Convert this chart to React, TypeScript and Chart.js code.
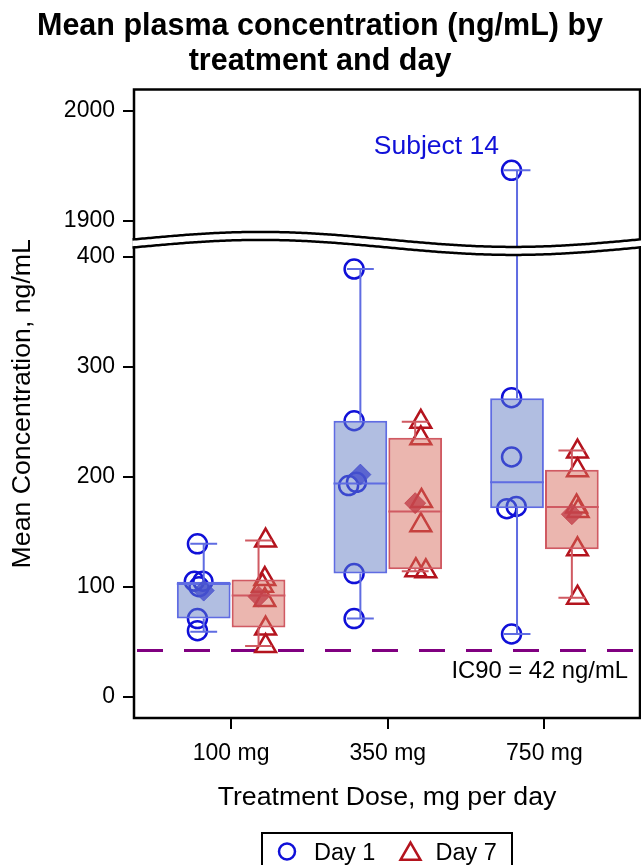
import React, { useEffect, useRef } from "react";
import { Chart, registerables } from "chart.js";

Chart.register(...registerables);

// ---------------- data ----------------
const categories = ["100 mg", "350 mg", "750 mg"];
const groupNames = ["Day 1", "Day 7"];
const titleLines = ["Mean plasma concentration (ng/mL) by", "treatment and day"];
const xTitle = "Treatment Dose, mg per day";
const yTitle = "Mean Concentration, ng/mL";

// individual subject values per dose
const day1Values = [
  [139, 105, 105, 100, 71, 60],
  [389, 251, 195, 192, 112, 71],
  [1946, 272, 218, 173, 171, 57],
];
const day1Jitter = [
  [-0.04, -0.06, -0.005, -0.03, -0.04, -0.04],
  [-0.04, -0.04, -0.025, -0.075, -0.04, -0.04],
  [-0.035, -0.035, -0.035, -0.005, -0.065, -0.035],
];
const day7Values = [
  [142, 107, 101, 88, 62, 46],
  [250, 235, 178, 156, 115, 114],
  [223, 206, 173, 169, 134, 90],
];
const day7Jitter = [
  [0.045, 0.04, 0.025, 0.04, 0.045, 0.045],
  [0.036, 0.036, 0.04, 0.036, 0.004, 0.068],
  [0.036, 0.036, 0.03, 0.04, 0.036, 0.036],
];

// box statistics
const day1Min = [59, 71, 57];
const day1Q1 = [71, 112, 171.5];
const day1Median = [102.5, 194, 195];
const day1Q3 = [104.5, 251, 271.5];
const day1Max = [139, 389, 1946];
const day1Mean = [96.5, 202, 473];

const day7Min = [46, 114, 90];
const day7Q1 = [63, 116, 134];
const day7Median = [92, 168.5, 172.5];
const day7Q3 = [106.5, 235.5, 206.5];
const day7Max = [142, 250, 224];
const day7Mean = [91, 176, 166];

// axes
const lowerTicks = [0, 100, 200, 300, 400];
const upperTicks = [1900, 2000];
const lowerRange = [-19.4, 412.3];
const upperRange = [1879.5, 2019.5];
const xRange = [0.38, 3.61];

const ic90 = 42;
const ic90Label = "IC90 = 42 ng/mL";
const outlierLabel = { category: 2, value: 1946, text: "Subject 14" };

// ---------------- styles ----------------
const FONT = "'Liberation Sans', Arial, Helvetica, sans-serif";
const BLUE = "#1010D8";
const RED = "#B4141E";
const BLUE_FILL = "rgba(100,125,195,0.5)";
const BLUE_LINE = "#5F6CE2";
const RED_FILL = "rgba(215,110,95,0.5)";
const RED_LINE = "#D05A62";
const BLUE_MEAN = "rgba(70,80,205,0.8)";
const RED_MEAN = "rgba(195,65,75,0.8)";
const PURPLE = "#800080";
const CAT_PCT = 0.7;
const GROUP_OFFSET = CAT_PCT / 4;

const inRange = (v: number, r: number[]) => v >= r[0] && v <= r[1];

function pointData(values: number[][], jitter: number[][], sign: number, range: number[]) {
  const out: { x: number; y: number }[] = [];
  values.forEach((vals, ci) =>
    vals.forEach((v, k) => {
      if (inRange(v, range)) out.push({ x: ci + 1 + sign * GROUP_OFFSET + jitter[ci][k], y: v });
    })
  );
  return out;
}
function meanData(means: number[], sign: number, range: number[]) {
  const out: { x: number; y: number }[] = [];
  means.forEach((v, ci) => {
    if (inRange(v, range)) out.push({ x: ci + 1 + sign * GROUP_OFFSET, y: v });
  });
  return out;
}
function boxData(q1: number[], q3: number[]) {
  return q1.map((v, i) => ({ x: i + 1, y: [v, q3[i]] }));
}

function trianglePath(ctx: CanvasRenderingContext2D, x: number, y: number, r: number) {
  ctx.beginPath();
  ctx.moveTo(x, y - r);
  ctx.lineTo(x + (r * Math.sqrt(3)) / 2, y + r / 2);
  ctx.lineTo(x - (r * Math.sqrt(3)) / 2, y + r / 2);
  ctx.closePath();
}

const extrasPlugin = {
  id: "boxExtras",
  beforeDatasetsDraw(chart: any) {
    const { ctx, chartArea: ca } = chart;
    const y = chart.scales.y.getPixelForValue(ic90);
    ctx.save();
    ctx.strokeStyle = PURPLE;
    ctx.lineWidth = 3;
    ctx.setLineDash([26, 21]);
    ctx.beginPath();
    ctx.moveTo(ca.left + 3, y);
    ctx.lineTo(ca.right, y);
    ctx.stroke();
    ctx.setLineDash([]);
    ctx.fillStyle = "#000";
    ctx.font = `23.8px ${FONT}`;
    ctx.textAlign = "right";
    ctx.textBaseline = "alphabetic";
    ctx.fillText(ic90Label, ca.right - 12, y + 28);
    ctx.restore();
  },
  afterDatasetDraw(chart: any, args: any) {
    const ds = chart.data.datasets[args.index];
    const st = ds.boxStats;
    if (!st) return;
    const { ctx } = chart;
    const ys = chart.scales.y;
    const y2 = chart.scales.y2;
    const px = (v: number) => (v <= lowerRange[1] ? ys.getPixelForValue(v) : y2.getPixelForValue(v));
    ctx.save();
    ctx.strokeStyle = ds.borderColor;
    ctx.lineWidth = 2;
    args.meta.data.forEach((el: any, i: number) => {
      const { x, width } = el.getProps(["x", "width"], true);
      const half = width / 2;
      const cap = width / 4;
      const yq1 = px(st.q1[i]);
      const yq3 = px(st.q3[i]);
      const ymin = px(st.min[i]);
      const ymax = px(st.max[i]);
      const ymed = px(st.median[i]);
      ctx.beginPath();
      ctx.moveTo(x, yq3);
      ctx.lineTo(x, ymax);
      ctx.moveTo(x - cap, ymax);
      ctx.lineTo(x + cap, ymax);
      ctx.moveTo(x, yq1);
      ctx.lineTo(x, ymin);
      ctx.moveTo(x - cap, ymin);
      ctx.lineTo(x + cap, ymin);
      ctx.moveTo(x - half, ymed);
      ctx.lineTo(x + half, ymed);
      ctx.stroke();
    });
    ctx.restore();
  },
  afterDraw(chart: any) {
    const { ctx, chartArea: ca } = chart;
    ctx.save();
    // frame
    ctx.strokeStyle = "#000";
    ctx.lineWidth = 2.5;
    ctx.strokeRect(ca.left, ca.top, ca.right - ca.left, ca.bottom - ca.top);

    // axis break
    const J = chart.scales.y.top;
    const amp = 7.5;
    const half = 4;
    const w = ca.right - ca.left;
    const wave = (x: number, d: number) => J + d - amp * Math.sin((2 * Math.PI * (x - ca.left)) / w);
    const x0 = ca.left - 1.5;
    const x1 = ca.right + 1.5;
    ctx.beginPath();
    for (let x = x0; x <= x1; x += 2) ctx.lineTo(x, wave(x, -half));
    ctx.lineTo(x1, wave(x1, -half));
    for (let x = x1; x >= x0; x -= 2) ctx.lineTo(x, wave(x, half));
    ctx.lineTo(x0, wave(x0, half));
    ctx.closePath();
    ctx.fillStyle = "#fff";
    ctx.fill();
    ctx.lineWidth = 2.5;
    ctx.strokeStyle = "#000";
    [-half, half].forEach((d) => {
      ctx.beginPath();
      for (let x = x0; x <= x1; x += 2) ctx.lineTo(x, wave(x, d));
      ctx.lineTo(x1, wave(x1, d));
      ctx.stroke();
    });

    // y axis title
    ctx.save();
    ctx.translate(23, (ca.top + ca.bottom) / 2);
    ctx.rotate(-Math.PI / 2);
    ctx.fillStyle = "#000";
    ctx.font = `26.7px ${FONT}`;
    ctx.textAlign = "center";
    ctx.textBaseline = "middle";
    ctx.fillText(yTitle, 0, 0);
    ctx.restore();

    // outlier label
    const boxMeta = chart.getDatasetMeta(2);
    const el = boxMeta.data[outlierLabel.category];
    if (el) {
      const yy = outlierLabel.value <= lowerRange[1]
        ? chart.scales.y.getPixelForValue(outlierLabel.value)
        : chart.scales.y2.getPixelForValue(outlierLabel.value);
      ctx.fillStyle = BLUE;
      ctx.font = `26.5px ${FONT}`;
      ctx.textAlign = "right";
      ctx.textBaseline = "alphabetic";
      ctx.fillText(outlierLabel.text, el.x - 18, yy - 16);
    }

    // legend
    const cx = (ca.left + ca.right) / 2;
    const lw = 250;
    const left = cx - lw / 2;
    const top = ca.bottom + 115;
    ctx.strokeStyle = "#000";
    ctx.lineWidth = 2;
    ctx.strokeRect(left, top, lw, 46);
    ctx.lineWidth = 2.5;
    ctx.strokeStyle = BLUE;
    ctx.beginPath();
    ctx.arc(left + 25, top + 18.5, 8, 0, Math.PI * 2);
    ctx.stroke();
    ctx.strokeStyle = RED;
    trianglePath(ctx, left + 148.5, top + 21, 11.5);
    ctx.stroke();
    ctx.fillStyle = "#000";
    ctx.font = `23.5px ${FONT}`;
    ctx.textAlign = "left";
    ctx.textBaseline = "alphabetic";
    ctx.fillText(groupNames[0], left + 52, top + 27);
    ctx.fillText(groupNames[1], left + 173.5, top + 27);
    ctx.restore();
  },
};

export default function App() {
  const ref = useRef<HTMLCanvasElement | null>(null);
  useEffect(() => {
    if (!ref.current) return;
    Chart.defaults.font.family = FONT;
    Chart.defaults.color = "#000";
    const tickGrid = {
      display: true,
      drawOnChartArea: false,
      drawTicks: true,
      tickLength: 11,
      color: "#000",
      lineWidth: 2,
      offset: false,
    };
    const numLabel = (v: any) => String(v);
    const chart = new Chart(ref.current, {
      type: "bar",
      data: {
        datasets: [
          {
            type: "scatter",
            label: "Day 1 mean",
            data: meanData(day1Mean, -1, lowerRange),
            yAxisID: "y",
            order: 0,
            pointStyle: "rectRot",
            pointRadius: 10.5,
            pointBackgroundColor: BLUE_MEAN,
            pointBorderColor: BLUE_MEAN,
            pointBorderWidth: 1,
          },
          {
            type: "scatter",
            label: "Day 7 mean",
            data: meanData(day7Mean, 1, lowerRange),
            yAxisID: "y",
            order: 0,
            pointStyle: "rectRot",
            pointRadius: 10.5,
            pointBackgroundColor: RED_MEAN,
            pointBorderColor: RED_MEAN,
            pointBorderWidth: 1,
          },
          {
            type: "bar",
            label: "Day 1 box",
            data: boxData(day1Q1, day1Q3),
            yAxisID: "y",
            order: 1,
            backgroundColor: BLUE_FILL,
            borderColor: BLUE_LINE,
            borderWidth: 2,
            borderSkipped: false,
            categoryPercentage: CAT_PCT,
            barPercentage: 0.98,
            boxStats: { min: day1Min, q1: day1Q1, median: day1Median, q3: day1Q3, max: day1Max },
          } as any,
          {
            type: "bar",
            label: "Day 7 box",
            data: boxData(day7Q1, day7Q3),
            yAxisID: "y",
            order: 1,
            backgroundColor: RED_FILL,
            borderColor: RED_LINE,
            borderWidth: 2,
            borderSkipped: false,
            categoryPercentage: CAT_PCT,
            barPercentage: 0.98,
            boxStats: { min: day7Min, q1: day7Q1, median: day7Median, q3: day7Q3, max: day7Max },
          } as any,
          {
            type: "scatter",
            label: "Day 1",
            data: pointData(day1Values, day1Jitter, -1, lowerRange),
            yAxisID: "y",
            order: 2,
            pointStyle: "circle",
            pointRadius: 9.5,
            pointBorderWidth: 2.5,
            pointBorderColor: BLUE,
            pointBackgroundColor: "rgba(0,0,0,0)",
          },
          {
            type: "scatter",
            label: "Day 7",
            data: pointData(day7Values, day7Jitter, 1, lowerRange),
            yAxisID: "y",
            order: 2,
            pointStyle: "triangle",
            pointRadius: 12,
            pointBorderWidth: 2.5,
            pointBorderColor: RED,
            pointBackgroundColor: "rgba(0,0,0,0)",
          },
          {
            type: "scatter",
            label: "Day 1 upper",
            data: pointData(day1Values, day1Jitter, -1, upperRange),
            yAxisID: "y2",
            order: 2,
            pointStyle: "circle",
            pointRadius: 9.5,
            pointBorderWidth: 2.5,
            pointBorderColor: BLUE,
            pointBackgroundColor: "rgba(0,0,0,0)",
          },
          {
            type: "scatter",
            label: "Day 7 upper",
            data: pointData(day7Values, day7Jitter, 1, upperRange),
            yAxisID: "y2",
            order: 2,
            pointStyle: "triangle",
            pointRadius: 12,
            pointBorderWidth: 2.5,
            pointBorderColor: RED,
            pointBackgroundColor: "rgba(0,0,0,0)",
          },
        ] as any,
      },
      options: {
        responsive: false,
        animation: false,
        devicePixelRatio: 1,
        events: [],
        layout: { autoPadding: false, padding: { left: 0, right: 1, top: 0, bottom: 32 } },
        plugins: {
          legend: { display: false },
          tooltip: { enabled: false },
          title: {
            display: true,
            text: titleLines,
            color: "#000",
            font: { family: FONT, size: 30.5, weight: "bold", lineHeight: 35 / 30.5 },
            padding: { top: 9, bottom: 10.5 },
          },
        },
        scales: {
          x: {
            type: "linear",
            offset: false,
            min: xRange[0],
            max: xRange[1],
            afterBuildTicks: (s: any) => {
              s.ticks = categories.map((_, i) => ({ value: i + 1 }));
            },
            afterFit: (s: any) => {
              s.height = 115;
              s.paddingLeft = 0;
              s.paddingRight = 0;
            },
            ticks: {
              callback: (_v: any, i: number) => categories[i],
              font: { size: 23, family: FONT },
              color: "#000",
              padding: 11,
              maxRotation: 0,
              autoSkip: false,
            },
            grid: tickGrid,
            border: { display: false },
            title: {
              display: true,
              text: xTitle,
              color: "#000",
              font: { size: 26.7, family: FONT },
              padding: { top: 0, bottom: 19 },
            },
          },
          y: {
            type: "linear",
            position: "left",
            stack: "conc",
            stackWeight: lowerRange[1] - lowerRange[0],
            weight: 0,
            min: lowerRange[0],
            max: lowerRange[1],
            afterBuildTicks: (s: any) => {
              s.ticks = lowerTicks.map((v) => ({ value: v }));
            },
            afterFit: (s: any) => {
              s.width = 134;
              s.paddingTop = 0;
              s.paddingBottom = 0;
            },
            ticks: { font: { size: 23, family: FONT }, color: "#000", padding: 8, callback: numLabel },
            grid: tickGrid,
            border: { display: false },
          },
          y2: {
            type: "linear",
            position: "left",
            stack: "conc",
            stackWeight: upperRange[1] - upperRange[0],
            weight: 1,
            min: upperRange[0],
            max: upperRange[1],
            afterBuildTicks: (s: any) => {
              s.ticks = upperTicks.map((v) => ({ value: v }));
            },
            afterFit: (s: any) => {
              s.width = 134;
              s.paddingTop = 0;
              s.paddingBottom = 0;
            },
            ticks: { font: { size: 23, family: FONT }, color: "#000", padding: 8, callback: numLabel },
            grid: tickGrid,
            border: { display: false },
          },
        },
      } as any,
      plugins: [extrasPlugin],
    });
    return () => chart.destroy();
  }, []);

  return (
    <div
      style={{
        position: "fixed",
        left: 0,
        top: 0,
        width: 641,
        height: 865,
        overflow: "hidden",
        background: "#fff",
      }}
    >
      <canvas ref={ref} width={641} height={865} style={{ display: "block" }} />
    </div>
  );
}
